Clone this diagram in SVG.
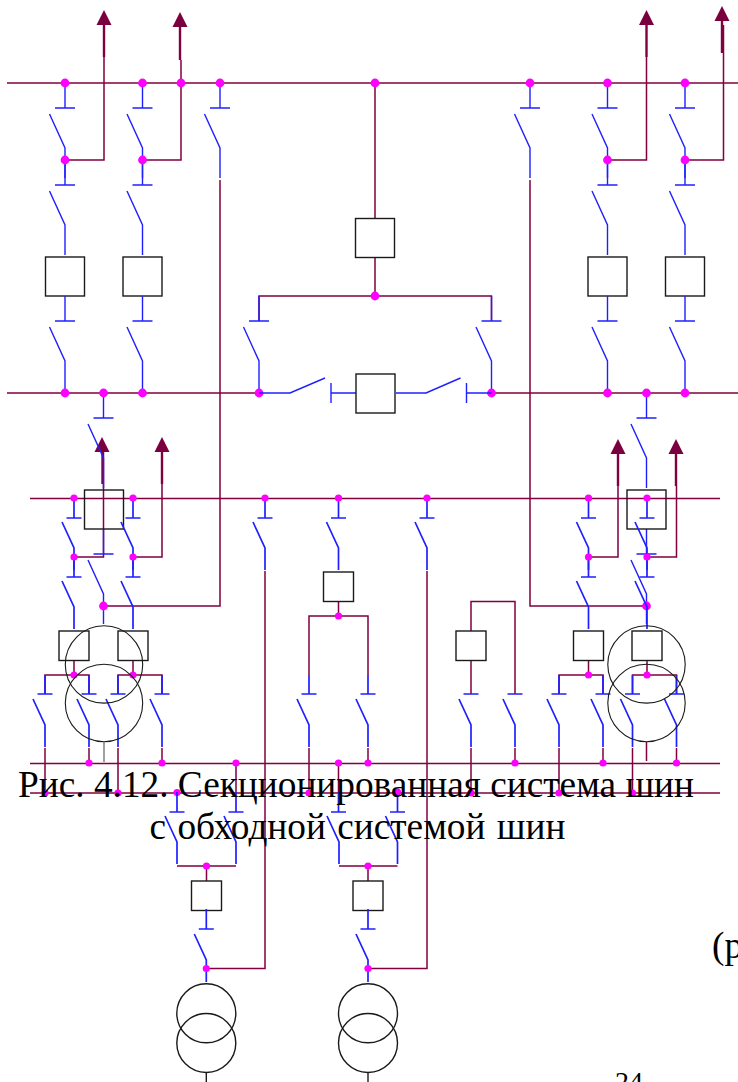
<svg xmlns="http://www.w3.org/2000/svg" width="738" height="1082" viewBox="0 0 738 1082">
<style>
.w{fill:none;stroke:#800040;stroke-width:1.5}
.h{fill:none;stroke:#800040;stroke-width:2.4}
.b{fill:none;stroke:#2020ff;stroke-width:1.4}
.s{fill:none;stroke:#2020ff;stroke-width:1.7}
.k{fill:none;stroke:#1a1a1a;stroke-width:1.4}
.c{fill:none;stroke:#1a1a1a;stroke-width:1.1}
.a{fill:#7a0040}
.d{fill:#ff00ff}
.t{font-family:"Liberation Serif","Times New Roman",serif;fill:#000}
</style>
<defs>
<path id="tl" class="b" d="M0 0V25M-10 25H10"/>
<path id="sl" class="b" d="M-15.500 0L0 34V64"/>
<path id="ts" class="s" d="M0 0V20M-7.500 20H7.500"/>
<path id="ss" class="s" d="M-12 0L0 26V48"/>
<rect id="bl" class="k" x="-19.500" y="0" width="39" height="39"/>
<rect id="bs" class="k" x="-15" y="0" width="30" height="29.500"/>
<circle id="dl" class="d" r="4.400"/>
<circle id="ds" class="d" r="3.600"/>
<polygon id="ar" class="a" points="-7.500,15 0,0 7.500,15"/>
<g id="tr"><circle class="c" cx="0" cy="0" r="38.700"/><circle class="c" cx="0" cy="38.600" r="38.700"/></g>
<g id="trs"><circle class="k" cx="0" cy="0" r="29.500"/><circle class="k" cx="0" cy="29.700" r="29.500"/></g>
</defs>
<g id="connectors">
<path class="w" d="M7 83H738"/>
<path class="w" d="M7 393H258M491.500 393H738"/>
<path class="w" d="M30 498.500H720"/>
<path class="w" d="M30 763.500H720"/>
<path class="w" d="M30 793H720"/>
<path class="w" d="M65 160H104V57"/>
<path class="h" d="M104 57V25"/>
<path class="w" d="M142.500 160H181V60"/>
<path class="h" d="M180 60V27"/>
<path class="w" d="M607.500 160H646.500V57"/>
<path class="h" d="M646.500 57V25"/>
<path class="w" d="M685 160H723.500V25"/>
<path class="h" d="M722 53V21"/>
<path class="w" d="M220 180V606H103.500"/>
<path class="w" d="M530 180V606H646.500"/>
<path class="w" d="M375 83V218.500M375 257.500V296M259 321V296H491.500V321"/>
<path class="w" d="M74 557H103.500V452"/>
<path class="h" d="M102.500 484V452"/>
<path class="w" d="M133 557H162V484"/>
<path class="h" d="M162 484V452"/>
<path class="w" d="M588.500 557H618V486"/>
<path class="h" d="M618 486V454"/>
<path class="w" d="M647 557H676.500V486"/>
<path class="h" d="M676 486V454"/>
<path class="w" d="M265 571V968.500H206"/>
<path class="w" d="M427 571V968.500H368"/>
<path class="w" d="M74 660V675M45 694V675H89V694M45 748V793M89 748V763"/>
<path class="w" d="M133 660V675M118 694V675H162V694M118 748V793M162 748V763"/>
<path class="w" d="M338.500 601.500V616M309 675V616H368V675M309 748V793M368 748V763"/>
<path class="w" d="M471 631V601.500H515V694M471 660V694M471 748V793M515 748V763"/>
<path class="w" d="M588.500 660V675M559 694V675H603V694M559 748V793M603 748V763"/>
<path class="w" d="M647 660V675M632.500 694V675H676.500V694M632.500 748V793M676.500 748V763"/>
<path class="w" d="M646.500 742V761"/>
<path class="w" d="M236 763.500V793M177 866H236M206.500 866V881"/>
<path class="w" d="M338.500 763.500V793M339 866H397.500M368 866V881"/>
<use href="#ar" x="104" y="10"/>
<use href="#ar" x="180" y="12"/>
<use href="#ar" x="646.500" y="10"/>
<use href="#ar" x="722" y="6"/>
<use href="#ar" x="102" y="437"/>
<use href="#ar" x="162" y="437"/>
<use href="#ar" x="618" y="439"/>
<use href="#ar" x="676" y="439"/>
</g>
<g id="bay-top-65"><use href="#tl" x="65" y="83"/><use href="#sl" x="65" y="114"/><use href="#tl" x="65" y="160"/><use href="#sl" x="65" y="191"/><use href="#bl" x="65" y="257"/><use href="#tl" x="65" y="296"/><use href="#sl" x="65" y="327"/><use href="#dl" x="65" y="83"/><use href="#dl" x="65" y="160"/><use href="#dl" x="65" y="393"/></g>
<g id="bay-top-142"><use href="#tl" x="142.500" y="83"/><use href="#sl" x="142.500" y="114"/><use href="#tl" x="142.500" y="160"/><use href="#sl" x="142.500" y="191"/><use href="#bl" x="142.500" y="257"/><use href="#tl" x="142.500" y="296"/><use href="#sl" x="142.500" y="327"/><use href="#dl" x="142.500" y="83"/><use href="#dl" x="142.500" y="160"/><use href="#dl" x="142.500" y="393"/></g>
<g id="bay-top-607"><use href="#tl" x="607.500" y="83"/><use href="#sl" x="607.500" y="114"/><use href="#tl" x="607.500" y="160"/><use href="#sl" x="607.500" y="191"/><use href="#bl" x="607.500" y="257"/><use href="#tl" x="607.500" y="296"/><use href="#sl" x="607.500" y="327"/><use href="#dl" x="607.500" y="83"/><use href="#dl" x="607.500" y="160"/><use href="#dl" x="607.500" y="393"/></g>
<g id="bay-top-685"><use href="#tl" x="685" y="83"/><use href="#sl" x="685" y="114"/><use href="#tl" x="685" y="160"/><use href="#sl" x="685" y="191"/><use href="#bl" x="685" y="257"/><use href="#tl" x="685" y="296"/><use href="#sl" x="685" y="327"/><use href="#dl" x="685" y="83"/><use href="#dl" x="685" y="160"/><use href="#dl" x="685" y="393"/></g>
<g id="tap-181"><use href="#dl" x="181" y="83"/></g>
<g id="bay-220"><use href="#tl" x="220" y="83"/><use href="#sl" x="220" y="114"/><use href="#dl" x="220" y="83"/></g>
<g id="bay-530"><use href="#tl" x="530" y="83"/><use href="#sl" x="530" y="114"/><use href="#dl" x="530" y="83"/></g>
<g id="bus-coupler"><use href="#bl" x="375" y="218.500"/><use href="#dl" x="375" y="83"/><use href="#dl" x="375" y="296"/>
<use href="#tl" x="259" y="296"/><use href="#sl" x="259" y="327"/><use href="#dl" x="259" y="393"/>
<use href="#tl" x="491.500" y="296"/><use href="#sl" x="491.500" y="327"/><use href="#dl" x="491.500" y="393"/></g>
<g id="section-breaker"><path class="b" d="M259 393H290L325 378M331 383V403M331 393H356M396 393H426L460.500 378M466.500 383V403M466.500 393H491.500"/><use href="#bl" x="375.500" y="374"/></g>
<g id="section-left"><use href="#tl" x="103.500" y="393"/><use href="#sl" x="103.500" y="424"/><use href="#tl" x="103.500" y="529"/><use href="#sl" x="103.500" y="560"/><use href="#dl" x="103.500" y="393"/><use href="#dl" x="103.500" y="606"/><use href="#bl" x="104" y="490"/></g>
<g id="section-right"><use href="#tl" x="646.500" y="393"/><use href="#sl" x="646.500" y="424"/><use href="#tl" x="646.500" y="529"/><use href="#sl" x="646.500" y="560"/><use href="#dl" x="646.500" y="393"/><use href="#dl" x="646.500" y="606"/><use href="#bl" x="646.500" y="490"/></g>
<g id="bay-74"><use href="#ts" x="74" y="498"/><use href="#ss" x="74" y="522"/><use href="#ts" x="74" y="557"/><use href="#ss" x="74" y="581"/><use href="#bs" x="74" y="631"/><use href="#ds" x="74" y="498"/><use href="#ds" x="74" y="557"/><use href="#ds" x="74" y="675"/>
<path class="s" d="M45 675V694M37.500 694H52.500M89 675V694M81.500 694H96.500"/><use href="#ss" x="45" y="699"/><use href="#ss" x="89" y="699"/><use href="#ds" x="45" y="793"/><use href="#ds" x="89" y="763"/></g>
<g id="bay-133"><use href="#ts" x="133" y="498"/><use href="#ss" x="133" y="522"/><use href="#ts" x="133" y="557"/><use href="#ss" x="133" y="581"/><use href="#bs" x="133" y="631"/><use href="#ds" x="133" y="498"/><use href="#ds" x="133" y="557"/><use href="#ds" x="133" y="675"/>
<path class="s" d="M118 675V694M110.500 694H125.500M162 675V694M154.500 694H169.500"/><use href="#ss" x="118" y="699"/><use href="#ss" x="162" y="699"/><use href="#ds" x="118" y="793"/><use href="#ds" x="162" y="763"/></g>
<g id="transformer-left"><use href="#tr" x="104" y="664.400"/><path d="M104 742V762" fill="none" stroke="#777" stroke-width="1.400"/></g>
<g id="bay-265"><use href="#ts" x="265" y="498"/><use href="#ss" x="265" y="522"/><use href="#ds" x="265" y="498"/></g>
<g id="bay-338"><use href="#ts" x="338.500" y="498"/><use href="#ss" x="338.500" y="522"/><use href="#bs" x="338.500" y="572"/><use href="#ds" x="338.500" y="498"/><use href="#ds" x="338.500" y="616"/>
<path class="s" d="M309 675V694M301.500 694H316.500M368 675V694M360.500 694H375.500"/><use href="#ss" x="309" y="699"/><use href="#ss" x="368" y="699"/><use href="#ds" x="309" y="793"/><use href="#ds" x="368" y="763"/><use href="#ds" x="338.500" y="763"/></g>
<g id="bay-427"><use href="#ts" x="427" y="498"/><use href="#ss" x="427" y="522"/><use href="#ds" x="427" y="498"/></g>
<g id="bay-471"><use href="#bs" x="471" y="631"/><path class="s" d="M463.500 694H478.500M507.500 694H522.500"/><use href="#ss" x="471" y="699"/><use href="#ss" x="515" y="699"/><use href="#ds" x="471" y="793"/><use href="#ds" x="515" y="763"/></g>
<g id="bay-588"><use href="#ts" x="588.500" y="498"/><use href="#ss" x="588.500" y="522"/><use href="#ts" x="588.500" y="557"/><use href="#ss" x="588.500" y="581"/><use href="#bs" x="588.500" y="631"/><use href="#ds" x="588.500" y="498"/><use href="#ds" x="588.500" y="557"/><use href="#ds" x="588.500" y="675"/>
<path class="s" d="M559 675V694M551.500 694H566.500M603 675V694M595.500 694H610.500"/><use href="#ss" x="559" y="699"/><use href="#ss" x="603" y="699"/><use href="#ds" x="559" y="793"/><use href="#ds" x="603" y="763"/></g>
<g id="bay-647"><use href="#ts" x="647" y="498"/><use href="#ss" x="647" y="522"/><use href="#ts" x="647" y="557"/><use href="#ss" x="647" y="581"/><use href="#bs" x="647" y="631"/><use href="#ds" x="647" y="498"/><use href="#ds" x="647" y="557"/><use href="#ds" x="647" y="675"/>
<path class="s" d="M632.500 675V694M625 694H640M676.500 675V694M669 694H684"/><use href="#ss" x="632.500" y="699"/><use href="#ss" x="676.500" y="699"/><use href="#ds" x="632.500" y="793"/><use href="#ds" x="676.500" y="763"/></g>
<g id="transformer-right"><use href="#tr" x="646.500" y="664.400"/></g>
<g id="incomer-206"><use href="#ds" x="177" y="792.500"/><use href="#ds" x="236" y="763"/><use href="#ts" x="177" y="792"/><use href="#ts" x="236" y="792"/><use href="#ss" x="177" y="816"/><use href="#ss" x="236" y="816"/><use href="#ds" x="206.500" y="866"/><use href="#bs" x="206.500" y="881"/><use href="#ts" x="206.300" y="909"/><use href="#ss" x="206.300" y="934"/><use href="#ds" x="206.300" y="968.500"/><use href="#trs" x="206.300" y="1013.300"/><path class="k" d="M206.300 1073V1082"/></g>
<g id="incomer-368"><use href="#ts" x="338.500" y="792"/><use href="#ts" x="397.500" y="792"/><use href="#ss" x="339" y="816"/><use href="#ss" x="397.500" y="816"/><use href="#ds" x="397.500" y="792"/><use href="#ds" x="368" y="866"/><use href="#bs" x="368" y="881"/><use href="#ts" x="368" y="909"/><use href="#ss" x="368" y="934"/><use href="#ds" x="368" y="968.500"/><use href="#trs" x="368" y="1013.300"/><path class="k" d="M368 1073V1082"/></g>
<g id="texts">
<text class="t" x="18" y="797" font-size="37.300">Рис. 4.12. Секционированная система шин</text>
<text class="t" x="149.500" y="838.500" font-size="37.300" word-spacing="2">с обходной системой шин</text>
<text class="t" x="712" y="958" font-size="37.300">(р</text>
<text class="t" x="615" y="1091" font-size="28">24</text>
</g>
</svg>
